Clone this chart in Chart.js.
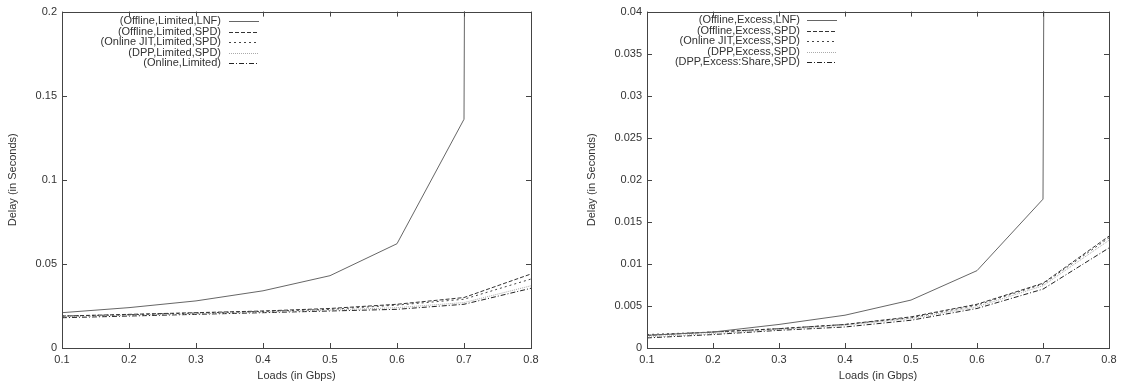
<!DOCTYPE html>
<html>
<head>
<meta charset="utf-8">
<script src="https://cdn.jsdelivr.net/npm/chart.js@4.4.1/dist/chart.umd.min.js"></script>
<style>
  body { margin: 0; background: #fff; width: 1123px; height: 387px; position: relative; overflow: hidden; }
  .box { position: absolute; top: 0; height: 387px; }
  #leftBox { left: 0; width: 560px; }
  #rightBox { left: 560px; width: 563px; }
</style>
</head>
<body>
<div class="box" id="leftBox"><canvas id="leftChart"></canvas></div>
<div class="box" id="rightBox"><canvas id="rightChart"></canvas></div>
<script>
// loads on the x axis (Gbps)
const loads = [0.1, 0.2, 0.3, 0.4, 0.5, 0.6, 0.7, 0.8];

// left panel: limited capacity
const limitedLabels = ['(Offline,Limited,LNF)', '(Offline,Limited,SPD)', '(Online JIT,Limited,SPD)', '(DPP,Limited,SPD)', '(Online,Limited)'];
const offlineLimitedLNF = [0.021, 0.024, 0.028, 0.034, 0.043, 0.062, 0.136, 10];
const offlineLimitedSPD = [0.019, 0.020, 0.021, 0.022, 0.0235, 0.026, 0.030, 0.044];
const onlineJitLimitedSPD = [0.019, 0.0198, 0.0208, 0.0218, 0.023, 0.0255, 0.029, 0.041];
const dppLimitedSPD = [0.0185, 0.0195, 0.0203, 0.0213, 0.0225, 0.024, 0.027, 0.037];
const onlineLimited = [0.018, 0.019, 0.020, 0.021, 0.022, 0.023, 0.026, 0.0355];
const limitedTicks = [0, 0.05, 0.1, 0.15, 0.2];

// right panel: excess capacity
const excessLabels = ['(Offline,Excess,LNF)', '(Offline,Excess,SPD)', '(Online JIT,Excess,SPD)', '(DPP,Excess,SPD)', '(DPP,Excess:Share,SPD)'];
const offlineExcessLNF = [0.0015, 0.0019, 0.0028, 0.0039, 0.0057, 0.0092, 0.0177, 2];
const offlineExcessSPD = [0.0015, 0.0019, 0.0023, 0.0028, 0.0037, 0.0052, 0.0077, 0.0133];
const onlineJitExcessSPD = [0.0016, 0.0019, 0.0023, 0.0028, 0.0036, 0.0051, 0.0076, 0.0131];
const dppExcessSPD = [0.0013, 0.0017, 0.0022, 0.0027, 0.0035, 0.0049, 0.0074, 0.0128];
const dppExcessShareSPD = [0.0012, 0.0016, 0.0021, 0.0025, 0.0033, 0.0047, 0.0070, 0.0119];
const excessTicks = [0, 0.005, 0.01, 0.015, 0.02, 0.025, 0.03, 0.035, 0.04];

const FONT = 'Liberation Sans, Arial, sans-serif';

// line styles shared by both panels (gnuplot-ish)
const styles = [
  { borderColor: '#666', borderDash: [] },
  { borderColor: '#333', borderDash: [4, 2] },
  { borderColor: '#444', borderDash: [2, 3] },
  { borderColor: '#aaa', borderDash: [1, 1] },
  { borderColor: '#222', borderDash: [5, 2, 1, 2] }
];

function makeDatasets(labels, series) {
  return series.map((vals, i) => ({
    label: labels[i],
    data: vals.map((v, j) => ({ x: loads[j], y: v })),
    borderColor: styles[i].borderColor,
    borderDash: styles[i].borderDash,
    borderWidth: 1,
    pointRadius: 0,
    tension: 0,
    fill: false
  }));
}

// frame with inward ticks on all four sides + legend inside the plot
const gnuplotPlugin = {
  id: 'gnuplotPlugin',
  afterDraw(chart, args, opts) {
    const ctx = chart.ctx;
    const a = chart.chartArea;
    const xs = chart.scales.x, ys = chart.scales.y;
    ctx.save();
    ctx.strokeStyle = '#444';
    ctx.lineWidth = 1;
    ctx.setLineDash([]);
    ctx.strokeRect(Math.round(a.left) + 0.5, Math.round(a.top) + 0.5, Math.round(a.right - a.left), Math.round(a.bottom - a.top));
    ctx.beginPath();
    xs.ticks.forEach(t => {
      const px = Math.round(xs.getPixelForValue(t.value)) + 0.5;
      ctx.moveTo(px, a.bottom); ctx.lineTo(px, a.bottom - 5);
      ctx.moveTo(px, a.top); ctx.lineTo(px, a.top + 5);
    });
    ys.ticks.forEach(t => {
      const py = Math.round(ys.getPixelForValue(t.value)) + 0.5;
      ctx.moveTo(a.left, py); ctx.lineTo(a.left + 5, py);
      ctx.moveTo(a.right, py); ctx.lineTo(a.right - 5, py);
    });
    ctx.stroke();

    // legend
    ctx.font = '11px ' + FONT;
    ctx.textAlign = 'right';
    ctx.textBaseline = 'middle';
    chart.data.datasets.forEach((ds, i) => {
      const y = opts.top + i * opts.step;
      ctx.fillStyle = '#333';
      ctx.fillText(ds.label, opts.textRight, y);
      ctx.strokeStyle = ds.borderColor;
      ctx.setLineDash(ds.borderDash);
      ctx.beginPath();
      ctx.moveTo(opts.lineFrom, Math.round(y) + 0.5);
      ctx.lineTo(opts.lineTo, Math.round(y) + 0.5);
      ctx.stroke();
    });
    ctx.restore();
  }
};

function makeChart(id, datasets, yTicks, yWidth, padLeft, padRight, legend) {
  const yMax = yTicks[yTicks.length - 1];
  return new Chart(document.getElementById(id), {
    type: 'line',
    data: { datasets: datasets },
    plugins: [gnuplotPlugin],
    options: {
      responsive: true,
      maintainAspectRatio: false,
      animation: false,
      layout: { padding: { top: 10, right: padRight, left: padLeft, bottom: 0 } },
      plugins: {
        legend: { display: false },
        tooltip: { enabled: false },
        gnuplotPlugin: legend
      },
      scales: {
        x: {
          type: 'linear',
          min: 0.1,
          max: 0.8,
          afterBuildTicks: s => { s.ticks = loads.map(v => ({ value: v })); },
          afterFit: s => { s.height = 39; },
          grid: { display: false, drawTicks: false },
          border: { display: false },
          ticks: { padding: 5, color: '#333', font: { family: FONT, size: 11 }, callback: v => String(v) },
          title: { display: true, text: 'Loads (in Gbps)', color: '#333', font: { family: FONT, size: 11 }, padding: { top: 2, bottom: 4 } }
        },
        y: {
          type: 'linear',
          min: 0,
          max: yMax,
          afterBuildTicks: s => { s.ticks = yTicks.map(v => ({ value: v })); },
          afterFit: s => { s.width = yWidth; },
          grid: { display: false, drawTicks: false },
          border: { display: false },
          ticks: { padding: 5, color: '#333', font: { family: FONT, size: 11 }, callback: v => String(v) },
          title: { display: true, text: 'Delay (in Seconds)', color: '#333', font: { family: FONT, size: 11 }, padding: { top: 4, bottom: 2 } }
        }
      }
    }
  });
}

makeChart('leftChart',
  makeDatasets(limitedLabels, [offlineLimitedLNF, offlineLimitedSPD, onlineJitLimitedSPD, dppLimitedSPD, onlineLimited]),
  limitedTicks, 60, 2, 29,
  { top: 21, step: 10.5, textRight: 221, lineFrom: 229, lineTo: 259 });

makeChart('rightChart',
  makeDatasets(excessLabels, [offlineExcessLNF, offlineExcessSPD, onlineJitExcessSPD, dppExcessSPD, dppExcessShareSPD]),
  excessTicks, 66, 21, 14,
  { top: 20, step: 10.5, textRight: 240, lineFrom: 247, lineTo: 277 });
</script>
</body>
</html>
